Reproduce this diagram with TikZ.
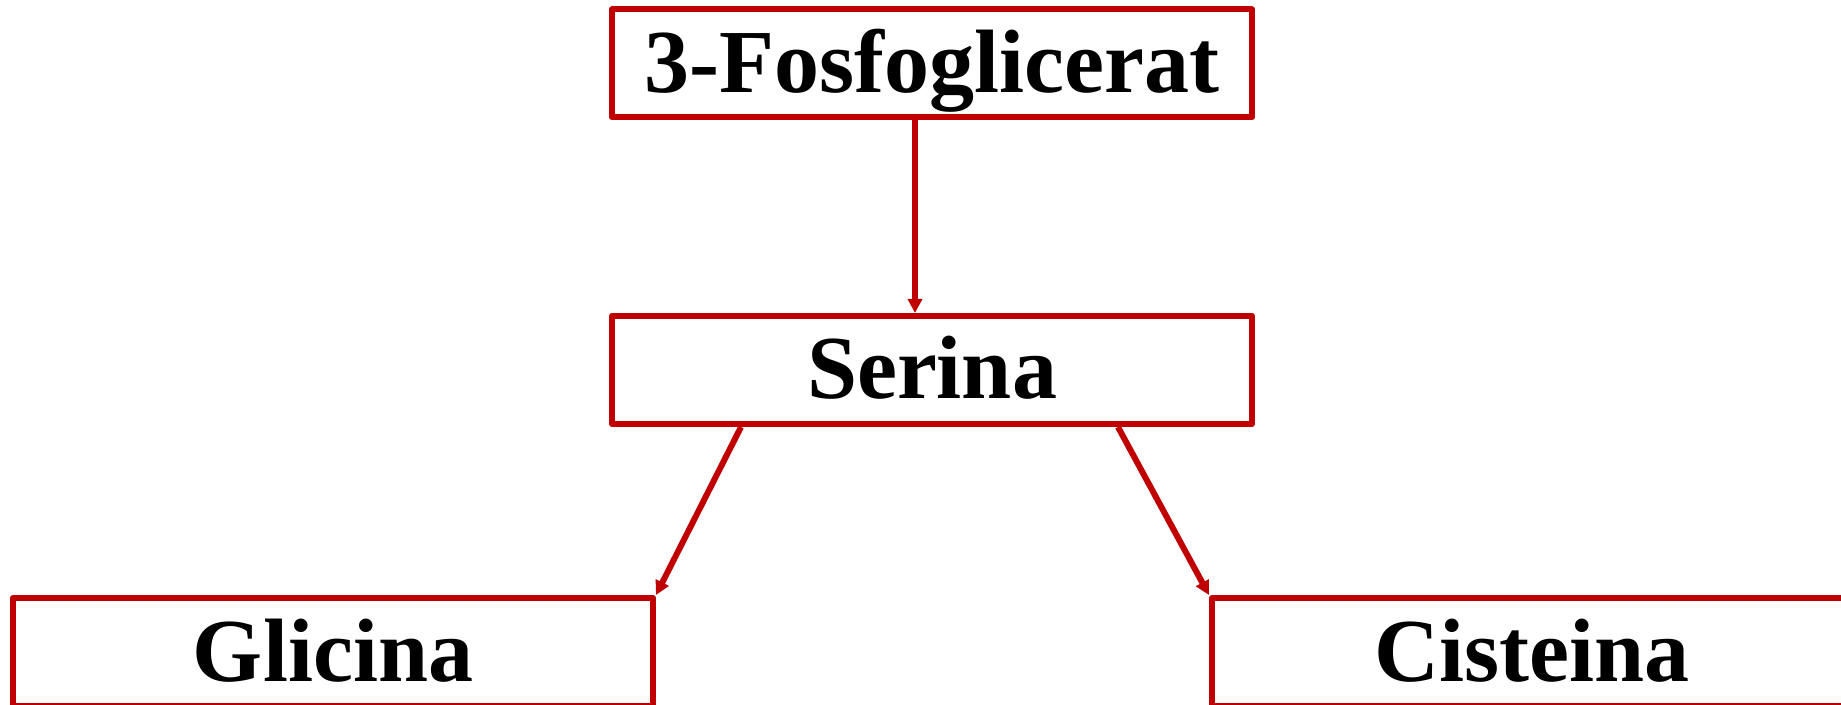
\documentclass[tikz,border=0pt]{standalone}
\usepackage{fontspec}
\setmainfont{Liberation Serif}
\usetikzlibrary{arrows.meta}
\definecolor{boxred}{RGB}{192,0,0}
\begin{document}
\begin{tikzpicture}[x=0.5pt,y=-0.5pt,
  stagebox/.style={draw=boxred, line width=3pt, line join=round, fill=white,
    minimum width=320pt, minimum height=54pt, inner sep=0pt,
    text height=29pt, text depth=0pt, align=center,
    font=\fontsize{45}{50}\selectfont\bfseries},
  flow/.style={draw=boxred, line width=3pt, -{Triangle[length=7pt,width=7pt]}}]
\useasboundingbox (0,0) rectangle (1841,705);
% pathway stages
\node[stagebox] (pga) at (932,63.5) {3-Fosfoglicerat};
\node[stagebox] (ser) at (932,370) {Serina};
\node[stagebox] (gly) at (333,652) {Glicina};
\node[stagebox] (cys) at (1532,652) {Cisteina};
% conversions
\draw[flow] ([xshift=-8.5pt]pga.south) -- ([xshift=-8.5pt]ser.north);
\draw[flow] ([xshift=-95.5pt]ser.south) -- (gly.north east);
\draw[flow] ([xshift=93pt]ser.south) -- (cys.north west);
\end{tikzpicture}
\end{document}
